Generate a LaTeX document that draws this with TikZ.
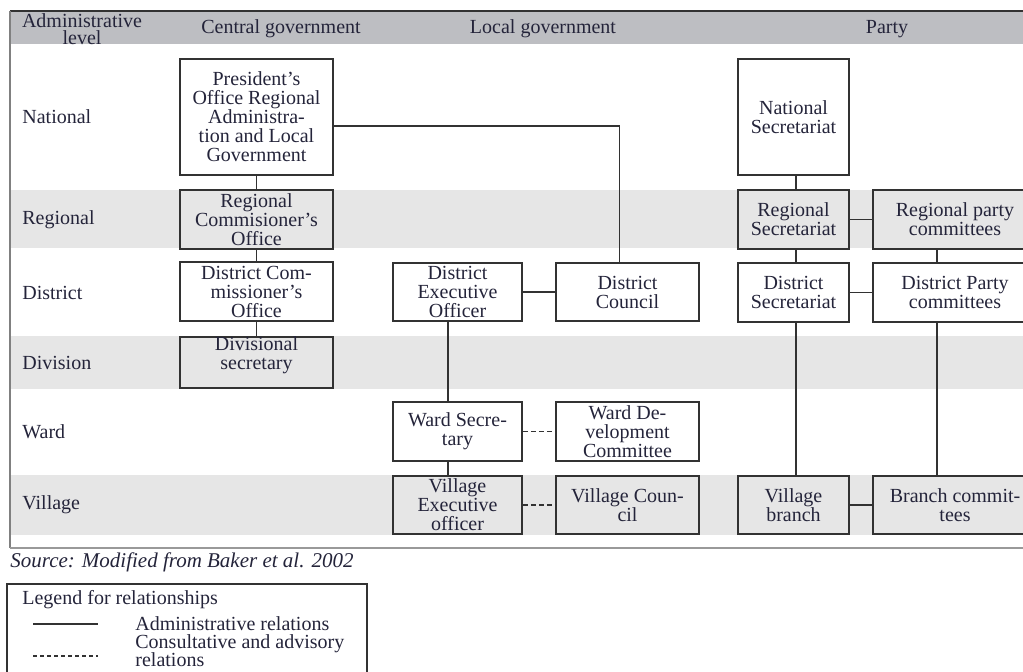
\documentclass[tikz,border=0pt]{standalone}
\usepackage{fontspec}
\setmainfont{Liberation Serif}
\usetikzlibrary{calc}
\definecolor{ink}{RGB}{36,36,58}
\definecolor{rule}{RGB}{50,50,50}
\definecolor{headgray}{RGB}{189,190,194}
\definecolor{bandgray}{RGB}{230,230,230}

\begin{document}
\begin{tikzpicture}[x=0.5pt,y=-0.5pt,
  box/.style={draw=rule, line width=0.95pt, inner sep=0pt, align=center,
    text=ink, font=\fontsize{10}{9.5}\selectfont},
  link/.style={draw=rule, line width=0.8pt},
  advisory/.style={link, dash pattern=on 2.5pt off 1.5pt},
  lbl/.style={inner sep=0pt, text=ink, font=\fontsize{10}{9.5}\selectfont},
  headlbl/.style={lbl, align=center, font=\fontsize{10}{8.6}\selectfont}]

\useasboundingbox (0,0) rectangle (1023,672);
\clip (0,0) rectangle (1023,672);

% ---- table background: header and shaded levels
\fill[headgray] (10,11) rectangle (1023,44);
\fill[bandgray] (10,190) rectangle (1023,248);
\fill[bandgray] (10,336) rectangle (1023,389);
\fill[bandgray] (10,475) rectangle (1023,535);

% ---- table frame
\draw[rule, line width=1pt] (10,11) -- (1023,11);
\draw[gray, line width=0.7pt] (10,11) -- (10,548);
\draw[black!40, line width=1pt] (10,548) -- (1023,548);

% ---- column headings
\node[headlbl] (hlevel) at (82,29) {Administrative\\level};
\node[lbl] (hcentral) at (281,29) {Central government};
\node[lbl] (hlocal) at (543,29) {Local government};
\node[lbl] (hparty) at (887,29) {Party};

% ---- level labels
\node[lbl, anchor=west] (lnat) at (22,117) {National};
\node[lbl, anchor=west] (lreg) at (22,220) {Regional};
\node[lbl, anchor=west] (ldis) at (22,293) {District};
\node[lbl, anchor=west] (ldiv) at (22,363) {Division};
\node[lbl, anchor=west] (lward) at (22,432) {Ward};
\node[lbl, anchor=west] (lvil) at (22,505) {Village};

% ---- central government
\node[box, minimum width=76.5pt, minimum height=58pt] (pres) at (256.5,117)
  {President’s\\Office Regional\\Administra-\\tion and Local\\Government};
\node[box, minimum width=76.5pt, minimum height=29.5pt] (rco) at (256.5,219.5)
  {Regional\\Commisioner’s\\Office};
\node[box, minimum width=76.5pt, minimum height=29.5pt] (dco) at (256.5,291.5)
  {District Com-\\missioner’s\\Office};
\node[box, minimum width=76.5pt, minimum height=25.5pt] (div) at (256.5,362.5) {};
\node[lbl, align=center] (divtext) at (256.5,355) {Divisional\\secretary};

% ---- local government
\node[box, minimum width=64.5pt, minimum height=29pt] (deo) at (457.5,292)
  {District\\Executive\\Officer};
\node[box, minimum width=71.5pt, minimum height=29pt] (dc) at (627.5,292)
  {District\\Council};
\node[box, minimum width=64.5pt, minimum height=29.5pt] (ws) at (457.5,431.5)
  {Ward Secre-\\tary};
\node[box, minimum width=71.5pt, minimum height=29.5pt] (wdc) at (627.5,431.5)
  {Ward De-\\velopment\\Committee};
\node[box, minimum width=64.5pt, minimum height=29pt] (veo) at (457.5,505)
  {Village\\Executive\\officer};
\node[box, minimum width=71.5pt, minimum height=29pt] (vc) at (627.5,505)
  {Village Coun-\\cil};

% ---- party
\node[box, minimum width=55.5pt, minimum height=58pt] (ns) at (793.5,117)
  {National\\Secretariat};
\node[box, minimum width=55.5pt, minimum height=29.5pt] (rs) at (793.5,219.5)
  {Regional\\Secretariat};
\node[box, minimum width=82pt, minimum height=29.5pt] (rpc) at (955,219.5)
  {Regional party\\committees};
\node[box, minimum width=55.5pt, minimum height=29.5pt] (ds) at (793.5,292.5)
  {District\\Secretariat};
\node[box, minimum width=82pt, minimum height=29.5pt] (dpc) at (955,292.5)
  {District Party\\committees};
\node[box, minimum width=55.5pt, minimum height=29pt] (vb) at (793.5,505)
  {Village\\branch};
\node[box, minimum width=82pt, minimum height=29pt] (bc) at (955,505)
  {Branch commit-\\tees};

% ---- administrative relations
\draw[link] (pres) -- (rco);
\draw[link] (rco) -- (dco);
\draw[link] (dco) -- (div);
\coordinate (presout) at ($(pres.east)+(0,9)$);
\coordinate (dcin) at ($(dc.north)+(-8,0)$);
\draw[link] (presout) -| (dcin);
\draw[link] (deo.east) -- (dc.west);
\coordinate (deoout) at ($(deo.south)+(-9.5,0)$);
\draw[link] (deoout) -- (deoout |- ws.north);
\draw[link] (deoout |- ws.south) -- (deoout |- veo.north);
\coordinate (nsout) at ($(ns.south)+(2.5,0)$);
\draw[link] (nsout) -- (nsout |- rs.north);
\draw[link] (nsout |- rs.south) -- (nsout |- ds.north);
\draw[link] (nsout |- ds.south) -- (nsout |- vb.north);
\draw[link] (rs.east) -- (rpc.west);
\draw[link] (ds.east) -- (dpc.west);
\draw[link] (vb.east) -- (bc.west);
\coordinate (rpcout) at ($(rpc.south)+(-18,0)$);
\draw[link] (rpcout) -- (rpcout |- dpc.north);
\draw[link] (rpcout |- dpc.south) -- (rpcout |- bc.north);

% ---- consultative relations
\draw[advisory] (ws.east) -- (wdc.west);
\draw[advisory] (veo.east) -- (vc.west);

% ---- source
\node[lbl, anchor=west, font=\fontsize{10.5}{12}\itshape] (src) at (10,562)
  {Source: Modified from Baker et al. 2002};

% ---- legend
\draw[rule, line width=0.8pt] (7,690) -- (7,584) -- (367,584) -- (367,690);
\node[lbl, anchor=west] (legtitle) at (22,600) {Legend for relationships};
\coordinate (solida) at (33,624);
\coordinate (solidb) at (98,624);
\draw[link] (solida) -- (solidb);
\node[lbl, anchor=west] (legadmin) at (135,624) {Administrative relations};
\coordinate (dasha) at (33,656);
\coordinate (dashb) at (98,656);
\draw[link, dash pattern=on 2pt off 1.5pt] (dasha) -- (dashb);
\node[lbl, anchor=north west, align=left, font=\fontsize{10}{9.2}\selectfont]
  (legcons) at (135,634) {Consultative and advisory\\relations};
\end{tikzpicture}
\end{document}
